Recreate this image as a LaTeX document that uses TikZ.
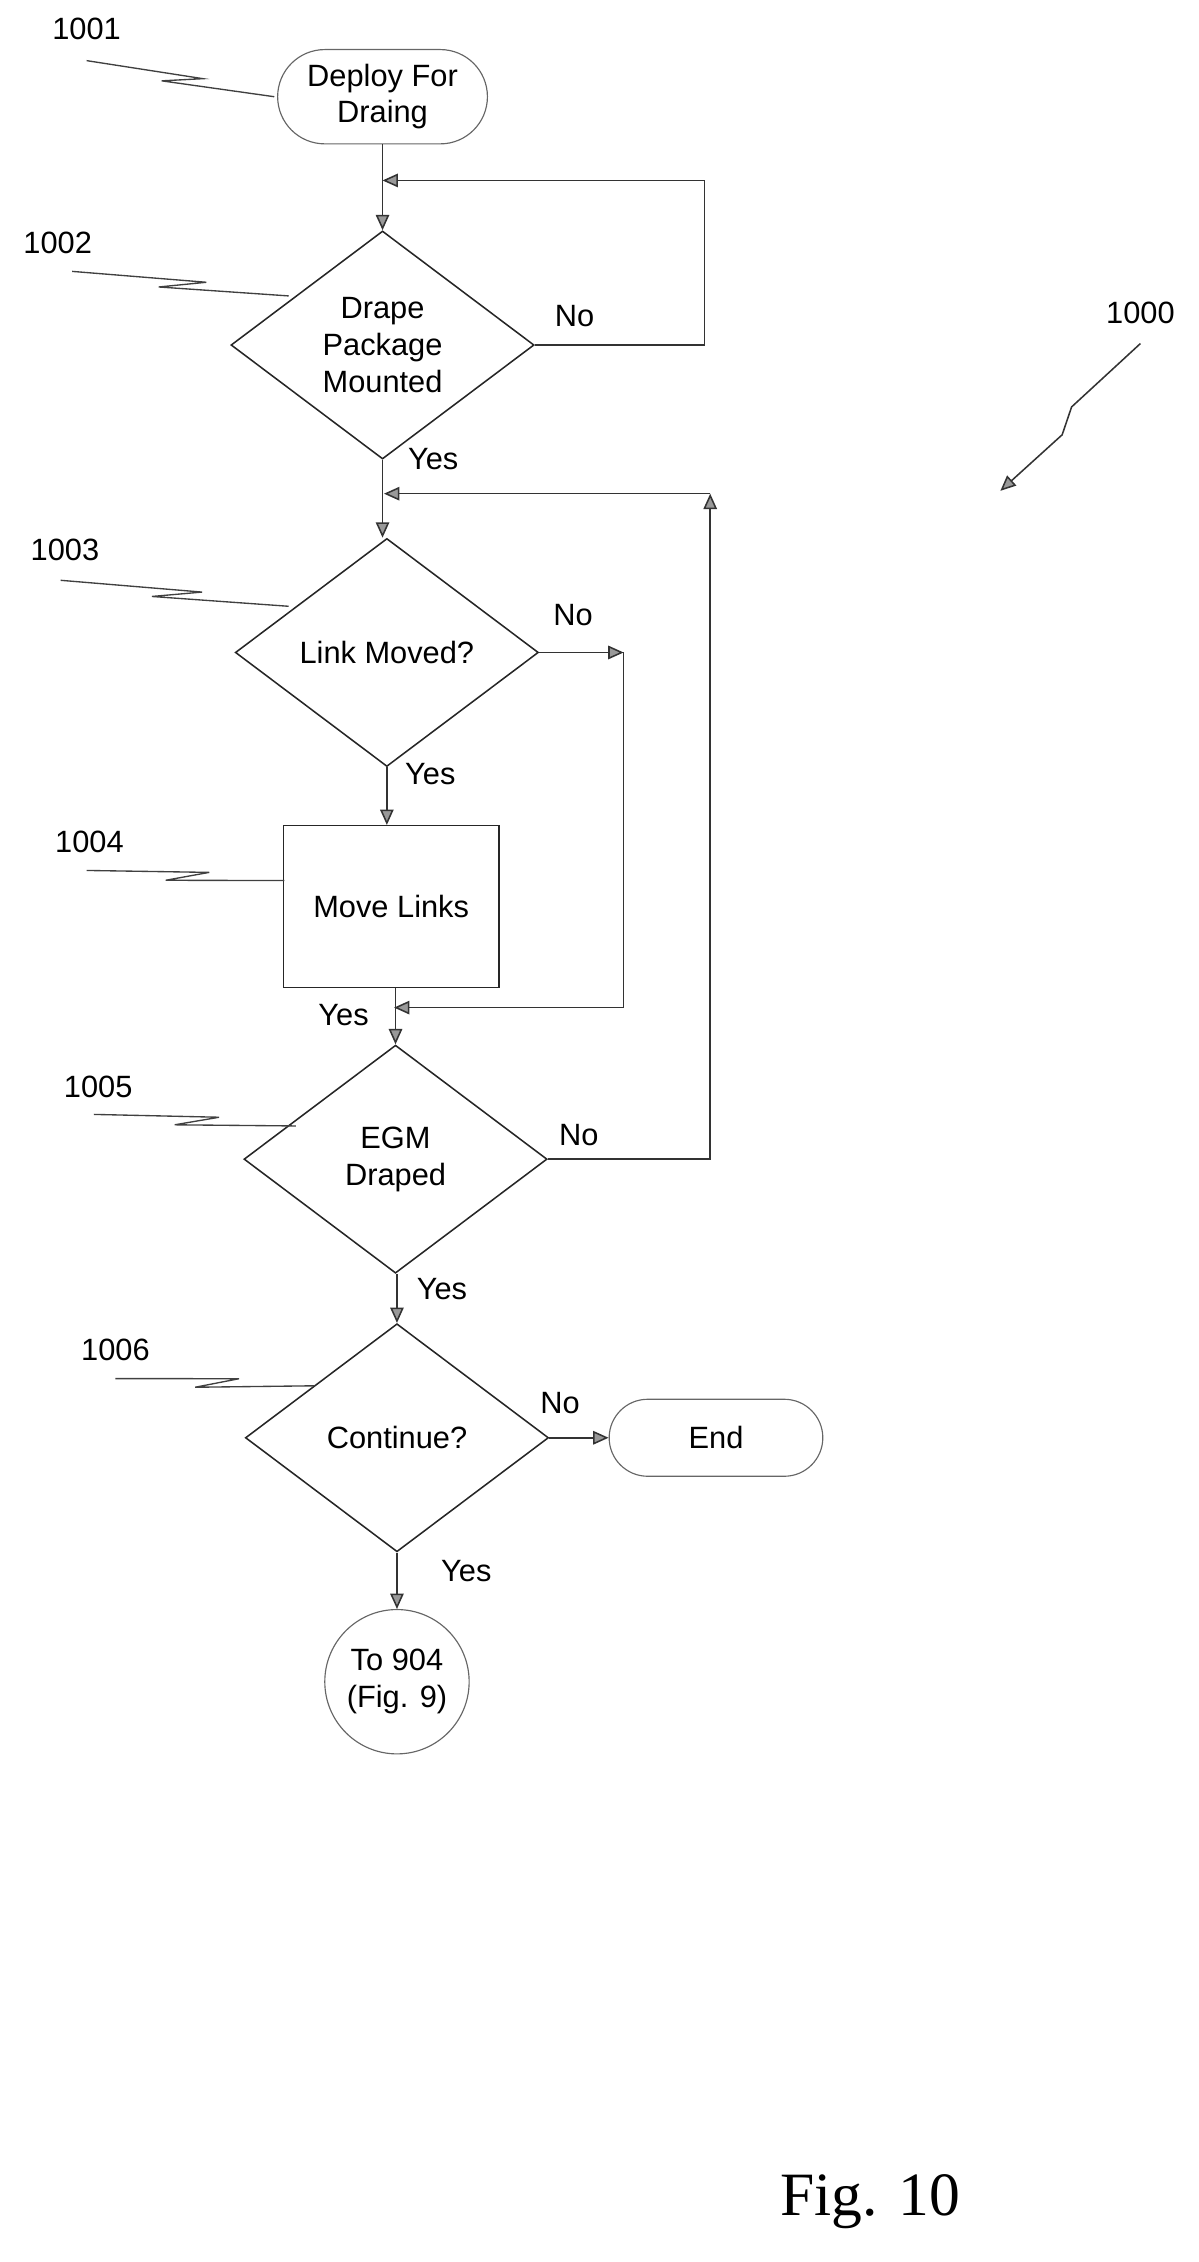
\documentclass[tikz,border=0pt]{standalone}
\usepackage{fontspec}
\setmainfont{Liberation Sans}
\newfontfamily\figfont{Liberation Serif}
\usetikzlibrary{shapes.geometric,shapes.misc,arrows.meta,calc}
\begin{document}
\begin{tikzpicture}[x=0.75pt,y=-0.75pt,font=\fontsize{16}{19}\selectfont,
 ln/.style={draw=black!80,line width=0.8pt},
 arr/.style={ln,-{Triangle[open,length=8pt,width=7pt,fill=black!40]}},
 dia/.style={diamond,draw=black!85,line width=0.8pt,minimum width=157.5pt,minimum height=118.5pt,inner sep=0pt,align=center},
 term/.style={rounded rectangle,draw=black!60,line width=0.6pt,align=center,inner sep=0pt}]
\useasboundingbox (0,0) rectangle (830,1567);
\node[term,minimum width=109pt,minimum height=49pt] (s) at (265,67) {Deploy For\\Draing};
\node[dia] (d2) at (265,239) {Drape\\Package\\Mounted};
\node[dia] (d3) at (268,452) {Link Moved?};
\node[draw=black!85,line width=0.8pt,minimum width=112pt,minimum height=84pt] (b4) at (271,628) {Move Links};
\node[dia] (d5) at (274,803) {EGM\\Draped};
\node[dia] (d6) at (275,996) {Continue?};
\node[term,minimum width=111pt,minimum height=40pt] (end) at (496,996) {End};
\node[circle,draw=black!60,line width=0.6pt,minimum size=75pt,inner sep=0pt,align=center] (c) at (275,1165) {To 904\\(Fig. 9)};
% main flow
\draw[arr] (s.south) -- (d2.north);
\coordinate (j1) at (265,125); \coordinate (r1) at (488,125); \coordinate (r1b) at (488,239);
\draw[arr] (d2.east) -- (r1b) -- (r1) -- (j1);
\draw[arr] (d2.south) -- ($(d3.north)+(-3,0)$);
\node[anchor=west] (y2) at (278,318) {Yes};
\node (n2) at (398,219) {No};
\coordinate (j2) at (266,342); \coordinate (r2) at (492,342); \coordinate (r2b) at (492,803);
\draw[arr] (d5.east) -- (r2b) -- (r2);
\draw[arr] (r2) -- (j2);
\node (n3) at (397,426) {No};
\coordinate (r3) at (432,452); \coordinate (r3b) at (432,698); \coordinate (j3) at (273,698);
\draw[arr] (d3.east) -- (r3);
\draw[arr] (r3) -- (r3b) -- (j3);
\draw[arr] (d3.south) -- (b4.north -| d3.south);
\node[anchor=west] (y3) at (276,536) {Yes};
\draw[arr] (b4.south -| d5.north) -- (d5.north);
\node (y4) at (238,703) {Yes};
\node (n5) at (401,786) {No};
\draw[arr] (d5.south -| d6.north) -- (d6.north);
\node[anchor=west] (y5) at (284,893) {Yes};
\draw[arr] (d6.east) -- (end.west);
\node (n6) at (388,972) {No};
\draw[arr] (d6.south) -- (c.north);
\node (y6) at (323,1088) {Yes};
% reference numerals with zigzag leaders
\newcommand{\zz}[2]{\draw[draw=black!75,line width=0.7pt] (#1) -- ($(#1)!0.62!(#2)+(0,-3)$) -- ($(#1)!0.4!(#2)+(0,4)$) -- (#2);}
\node (l1) at (60,20) {1001}; \coordinate (a1) at (60,42); \coordinate (b1) at (190,67); \zz{a1}{b1}
\node (l2) at (40,168) {1002}; \coordinate (a2) at (50,188); \coordinate (b2) at (200,205); \zz{a2}{b2}
\node (l3) at (45,381) {1003}; \coordinate (a3) at (42,402); \coordinate (b3) at (200,420); \zz{a3}{b3}
\node (l4) at (62,583) {1004}; \coordinate (a4) at (60,603); \coordinate (b4a) at (197,610); \zz{a4}{b4a}
\node (l5) at (68,753) {1005}; \coordinate (a5) at (65,772); \coordinate (b5) at (205,780); \zz{a5}{b5}
\node (l6) at (80,935) {1006}; \coordinate (a6) at (80,955); \coordinate (b6) at (218,960); \zz{a6}{b6}
\node (l0) at (790,217) {1000};
\coordinate (a0) at (790,238); \coordinate (b0) at (693,340);
\draw[arr] (a0) -- ($(a0)!0.45!(b0)+(-4,-2)$) -- ($(a0)!0.6!(b0)+(4,2)$) -- (b0);
\node[font=\figfont\fontsize{32}{36}\selectfont] (fig) at (603,1525) {Fig. 10};
\end{tikzpicture}
\end{document}
